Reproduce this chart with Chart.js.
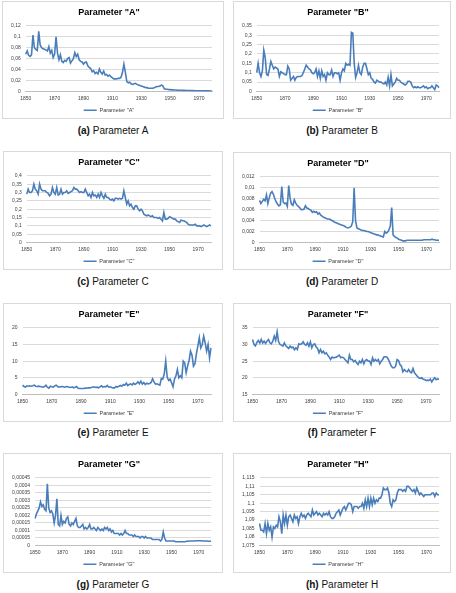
<!DOCTYPE html>
<html><head><meta charset="utf-8">
<script src="https://cdn.jsdelivr.net/npm/chart.js@4.4.1/dist/chart.umd.min.js"></script>
<style>
body{margin:0;background:#fff;width:456px;height:593px;position:relative;overflow:hidden;font-family:"Liberation Sans",Arial,sans-serif}
.box{position:absolute;border:1px solid #d9d9d9;box-sizing:border-box;background:#fff;overflow:hidden}
.box canvas{display:block}
.cap{position:absolute;text-align:center;font-size:10px;color:#111;line-height:12px}
</style></head><body>
<script>
// categories
const years = [];
for (let y = 1850; y <= 1979; y++) years.push(y);
const xTickLabels = ['1850','1870','1890','1910','1930','1950','1970'];

const seriesA = [
0.068,0.074,0.066,0.064,0.067,0.103,0.080,0.077,0.075,0.110,
0.085,0.080,0.078,0.077,0.076,0.074,0.082,0.070,0.075,0.062,
0.068,0.100,0.070,0.058,0.067,0.055,0.053,0.057,0.055,0.060,
0.062,0.052,0.056,0.060,0.071,0.064,0.068,0.058,0.055,0.054,
0.050,0.053,0.054,0.047,0.044,0.042,0.036,0.038,0.033,0.035,
0.032,0.041,0.035,0.032,0.037,0.030,0.031,0.028,0.030,0.027,
0.025,0.023,0.023,0.023,0.024,0.024,0.026,0.035,0.050,0.035,
0.018,0.016,0.017,0.014,0.013,0.014,0.015,0.013,0.012,0.011,
0.010,0.009,0.008,0.007,0.007,0.006,0.006,0.006,0.006,0.007,
0.008,0.009,0.009,0.010,0.012,0.010,0.005,0.004,0.004,0.0035,
0.0035,0.003,0.003,0.0028,0.0027,0.0025,0.0024,0.0023,0.0022,0.002,
0.002,0.0019,0.0018,0.0018,0.0017,0.0016,0.0016,0.0015,0.0015,0.0014,
0.0014,0.0013,0.0013,0.0012,0.0012,0.0012,0.0011,0.0011,0.001,0.001];

const seriesB = [
0.10,0.15,0.10,0.08,0.11,0.22,0.18,0.09,0.085,0.12,
0.16,0.14,0.12,0.13,0.125,0.12,0.08,0.105,0.10,0.095,
0.09,0.09,0.135,0.12,0.06,0.07,0.08,0.06,0.075,0.08,
0.08,0.08,0.085,0.10,0.12,0.14,0.13,0.12,0.115,0.10,
0.095,0.10,0.12,0.08,0.11,0.07,0.11,0.08,0.09,0.06,
0.10,0.09,0.09,0.115,0.08,0.10,0.10,0.095,0.10,0.06,
0.10,0.12,0.11,0.15,0.14,0.145,0.14,0.315,0.31,0.15,
0.075,0.10,0.14,0.10,0.09,0.13,0.15,0.15,0.12,0.09,
0.10,0.07,0.065,0.05,0.045,0.06,0.055,0.05,0.05,0.045,
0.04,0.05,0.035,0.075,0.03,0.09,0.03,0.04,0.05,0.07,
0.06,0.06,0.05,0.045,0.04,0.035,0.04,0.055,0.055,0.05,
0.03,0.02,0.025,0.02,0.025,0.02,0.02,0.025,0.03,0.02,
0.025,0.015,0.02,0.02,0.03,0.02,0.01,0.035,0.03,0.02];

const seriesC = [
0.29,0.32,0.30,0.30,0.31,0.35,0.32,0.31,0.29,0.35,
0.32,0.31,0.31,0.31,0.30,0.295,0.28,0.29,0.33,0.30,
0.29,0.33,0.285,0.29,0.32,0.29,0.30,0.30,0.31,0.295,
0.30,0.305,0.31,0.33,0.32,0.32,0.31,0.30,0.305,0.30,
0.30,0.32,0.30,0.28,0.29,0.27,0.30,0.28,0.285,0.27,
0.29,0.27,0.30,0.28,0.265,0.29,0.27,0.27,0.26,0.255,
0.26,0.25,0.265,0.265,0.26,0.265,0.26,0.265,0.31,0.27,
0.23,0.25,0.22,0.23,0.21,0.20,0.22,0.22,0.20,0.19,
0.20,0.19,0.17,0.165,0.16,0.165,0.16,0.155,0.16,0.15,
0.15,0.15,0.145,0.15,0.14,0.13,0.18,0.14,0.14,0.145,
0.155,0.15,0.145,0.14,0.14,0.13,0.125,0.12,0.135,0.13,
0.13,0.125,0.12,0.11,0.105,0.105,0.105,0.105,0.11,0.10,
0.10,0.10,0.095,0.10,0.105,0.10,0.095,0.10,0.105,0.10];

const seriesD = [
0.0077,0.0071,0.0075,0.0079,0.0076,0.0087,0.0071,0.0082,0.0090,0.0093,
0.0088,0.0080,0.0074,0.0070,0.0067,0.0069,0.0102,0.0074,0.0071,0.0072,
0.0066,0.0104,0.0080,0.0070,0.0068,0.0078,0.0072,0.0068,0.0066,0.0063,
0.0060,0.0060,0.0061,0.0067,0.0063,0.0062,0.0060,0.0059,0.0055,0.0057,
0.0055,0.0056,0.0052,0.0054,0.0050,0.0048,0.0046,0.0045,0.0044,0.0043,
0.0043,0.0042,0.0040,0.0039,0.0037,0.0036,0.0035,0.0034,0.0033,0.0032,
0.0031,0.0030,0.0028,0.0027,0.0027,0.0028,0.0030,0.0038,0.0100,0.0040,
0.0027,0.0025,0.0024,0.0023,0.0022,0.0022,0.0021,0.0020,0.0020,0.0019,
0.0018,0.0017,0.0016,0.0015,0.0014,0.0014,0.0013,0.0012,0.0011,0.0010,
0.0020,0.0017,0.0019,0.0023,0.0030,0.0064,0.0014,0.0011,0.0009,0.0008,
0.0006,0.0005,0.0004,0.0003,0.0003,0.0003,0.0004,0.0004,0.0004,0.0004,
0.0004,0.0004,0.0004,0.0004,0.0004,0.0004,0.0004,0.0004,0.0005,0.0005,
0.0005,0.0005,0.0005,0.0005,0.0006,0.0005,0.0005,0.0004,0.0004,0.0004];

const seriesE = [
2.8,2.4,2.2,2.6,2.5,2.6,2.5,2.6,2.8,2.5,
2.4,2.5,2.4,2.3,2.2,2.4,2.8,2.2,1.9,2.5,
2.3,2.2,2.6,2.8,2.4,2.2,2.3,2.4,2.3,2.2,
2.4,2.3,2.2,2.1,2.3,2.0,2.2,2.4,1.9,1.8,
1.8,1.8,1.8,1.9,1.9,2.0,2.0,2.1,2.2,2.3,
2.1,2.2,2.0,2.3,2.6,2.2,2.4,2.3,2.7,2.2,
2.3,2.1,2.0,2.0,2.4,2.2,2.5,2.7,2.5,3.0,
2.8,3.4,2.7,3.0,3.2,2.9,3.4,3.0,3.3,3.8,
3.2,4.0,3.1,3.6,3.0,3.4,3.2,3.3,3.6,4.7,
3.8,3.1,3.2,3.0,2.8,4.8,4.6,6.2,10.0,5.2,
4.2,4.6,3.5,2.3,4.6,5.6,7.5,5.0,5.6,5.0,
10.0,9.4,6.5,8.6,10.2,13.0,11.8,8.5,9.2,12.2,
14.5,17.0,14.0,15.0,17.5,15.5,13.0,15.0,11.0,14.0];

const seriesF = [
31.5,30.0,29.6,30.6,31.2,30.4,31.5,30.4,31.0,30.3,
31.0,31.5,30.5,30.2,31.0,32.5,31.2,33.8,30.8,30.0,
29.8,29.5,30.5,29.6,29.2,28.8,29.5,29.0,29.2,28.4,
29.0,28.5,30.2,30.0,30.2,30.8,30.0,29.8,30.5,29.5,
30.8,29.0,30.0,30.2,29.2,28.8,27.5,28.5,27.5,28.0,
27.2,27.5,26.8,26.2,25.5,26.2,26.0,26.1,26.2,26.5,
26.8,26.0,26.2,26.0,25.5,25.0,24.5,26.8,25.5,25.5,
24.8,25.2,24.5,24.0,25.0,24.5,25.5,24.2,25.2,25.5,
25.0,25.0,24.0,26.0,25.0,25.5,25.0,25.5,24.2,25.0,
25.5,26.3,26.3,26.2,25.5,24.5,23.5,23.0,23.0,23.5,
25.5,25.2,24.0,23.5,21.8,22.5,22.0,21.8,22.5,21.8,
21.5,22.8,21.5,21.0,20.5,20.0,19.8,20.0,19.6,19.5,
19.2,19.3,19.2,19.6,18.8,19.5,20.0,19.5,19.6,19.6];

const seriesG = [
0.00018,0.00021,0.00023,0.00025,0.00029,0.00026,0.00027,0.00024,0.00023,0.00041,
0.00025,0.00022,0.00023,0.00021,0.00015,0.00020,0.00031,0.00014,0.00013,0.00020,
0.00014,0.00016,0.00015,0.00018,0.00019,0.00014,0.00013,0.00015,0.00014,0.00016,
0.00018,0.00013,0.00012,0.00012,0.00013,0.00014,0.00011,0.00012,0.00011,0.00012,
0.00014,0.00011,0.00011,0.00012,0.00011,0.00010,0.00012,0.00011,0.00010,0.00011,
0.00010,0.00012,0.00011,0.00012,0.00010,0.00011,0.00009,0.00010,0.00008,0.00008,
0.00008,0.00008,0.00007,0.00008,0.00007,0.00008,0.00010,0.00008,0.00008,0.00007,
0.00007,0.00007,0.00006,0.00007,0.00006,0.00006,0.00006,0.00005,0.00006,0.00006,
0.00005,0.00006,0.00005,0.00005,0.00005,0.00005,0.00004,0.00004,0.00004,0.00004,
0.00004,0.00004,0.00003,0.00004,0.00009,0.00005,0.00003,0.00003,0.00003,0.00003,
0.00003,0.00003,0.00003,0.000025,0.000025,0.000025,0.000025,0.000025,0.000025,0.000025,
0.000025,0.000028,0.000028,0.00003,0.00003,0.00003,0.00003,0.00003,0.000032,0.000032,
0.000032,0.000032,0.000032,0.00003,0.00003,0.00003,0.00003,0.000028,0.000028,0.000028];

const seriesH = [
1.088,1.084,1.084,1.083,1.088,1.082,1.088,1.084,1.086,1.080,
1.086,1.085,1.087,1.086,1.092,1.089,1.082,1.093,1.088,1.093,
1.087,1.092,1.093,1.091,1.089,1.093,1.091,1.092,1.088,1.092,
1.094,1.092,1.093,1.091,1.093,1.094,1.093,1.092,1.096,1.093,
1.094,1.095,1.093,1.094,1.093,1.092,1.094,1.093,1.094,1.093,
1.095,1.092,1.091,1.091,1.092,1.094,1.095,1.096,1.093,1.095,
1.097,1.098,1.096,1.098,1.100,1.100,1.099,1.095,1.098,1.098,
1.098,1.097,1.098,1.098,1.100,1.097,1.102,1.098,1.103,1.098,
1.103,1.099,1.103,1.100,1.102,1.101,1.103,1.103,1.105,1.109,
1.108,1.108,1.109,1.106,1.100,1.098,1.102,1.101,1.102,1.106,
1.108,1.108,1.108,1.107,1.108,1.107,1.110,1.110,1.109,1.108,
1.107,1.108,1.106,1.109,1.107,1.105,1.106,1.105,1.104,1.105,
1.105,1.105,1.105,1.105,1.106,1.106,1.104,1.106,1.105,1.105];

const panels = [
  {k:'A', data:seriesA, min:0, max:0.12, step:0.02, box:[2,1,222,118], capY:131},
  {k:'B', data:seriesB, min:0, max:0.35, step:0.05, box:[233,1,218,118], capY:131},
  {k:'C', data:seriesC, min:0, max:0.4, step:0.05, box:[3,151,220,119], capY:282},
  {k:'D', data:seriesD, min:0, max:0.012, step:0.002, box:[233,152,218,118], capY:282},
  {k:'E', data:seriesE, min:0, max:20, step:5, box:[3,303,220,119], capY:433},
  {k:'F', data:seriesF, min:15, max:35, step:5, box:[233,303,218,119], capY:433},
  {k:'G', data:seriesG, min:0, max:0.00045, step:0.00005, box:[3,453,220,120], capY:585},
  {k:'H', data:seriesH, min:1.075, max:1.115, step:0.005, box:[233,453,218,120], capY:585}
];

const FONT = '"Liberation Sans", Arial, sans-serif';
const BLUE = '#4a7ebb';
const fmt = v => String(parseFloat(Number(v).toFixed(8))).replace('.', ',');

panels.forEach(p => {
  const [x, y, w, h] = p.box;
  const box = document.createElement('div');
  box.className = 'box';
  box.style.left = x + 'px'; box.style.top = y + 'px';
  box.style.width = w + 'px'; box.style.height = h + 'px';
  const cw = w - 2, ch = h - 2 + 6;
  const cv = document.createElement('canvas');
  cv.width = cw; cv.height = ch;
  cv.style.width = cw + 'px'; cv.style.height = ch + 'px';
  box.appendChild(cv);
  document.body.appendChild(box);

  const cap = document.createElement('div');
  cap.className = 'cap';
  cap.style.left = x + 'px'; cap.style.width = w + 'px';
  cap.style.top = (p.capY - 6) + 'px';
  cap.innerHTML = '<b>(' + p.k.toLowerCase() + ')</b> Parameter ' + p.k;
  document.body.appendChild(cap);

  const name = 'Parameter "' + p.k + '"';
  new Chart(cv, {
    type: 'line',
    data: {
      labels: years.map(String),
      datasets: [{
        label: name,
        data: p.data,
        borderColor: BLUE,
        backgroundColor: BLUE,
        borderWidth: 1.6,
        pointRadius: 0,
        tension: 0,
        fill: false
      }]
    },
    options: {
      responsive: false,
      animation: false,
      devicePixelRatio: 1,
      layout: {padding: {left: 3, right: 11, top: 1, bottom: 1}},
      plugins: {
        title: {
          display: true, text: name, color: '#000',
          font: {family: FONT, size: 9, weight: 'bold'},
          padding: {top: 4, bottom: 8}
        },
        legend: {
          display: true, position: 'bottom',
          labels: {
            usePointStyle: true, pointStyle: 'line', pointStyleWidth: 13,
            color: '#404040', font: {family: FONT, size: 5.5}, padding: 2
          }
        },
        tooltip: {enabled: false}
      },
      scales: {
        x: {
          type: 'category',
          grid: {display: false, drawTicks: false},
          border: {display: true, color: '#bfbfbf'},
          ticks: {
            autoSkip: false, maxRotation: 0, minRotation: 0, padding: 4,
            color: '#404040', font: {family: FONT, size: 5},
            callback: (v, i) => xTickLabels.includes(String(years[i])) ? String(years[i]) : ''
          }
        },
        y: {
          min: p.min, max: p.max,
          grid: {color: '#d0d0d0', drawTicks: false, lineWidth: 0.8},
          border: {display: false},
          ticks: {
            autoSkip: false, stepSize: p.step, padding: 5,
            color: '#404040', font: {family: FONT, size: 5},
            callback: v => fmt(v)
          }
        }
      }
    }
  });
});
</script>
</body></html>
